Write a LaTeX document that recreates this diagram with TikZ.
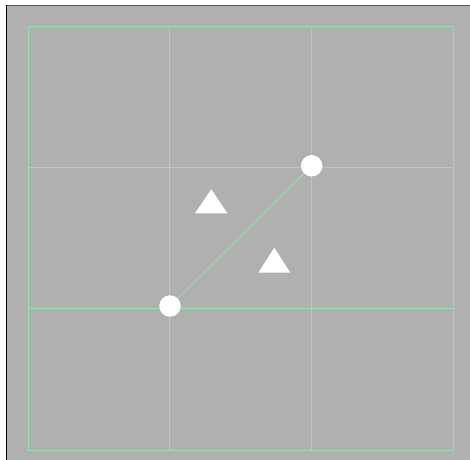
\documentclass[tikz,border=0pt]{standalone}
\definecolor{panelgray}{RGB}{176,176,176}
\definecolor{gridgreen}{RGB}{140,228,168}
\definecolor{framegray}{RGB}{90,90,90}
\begin{document}
\begin{tikzpicture}[x=1bp,y=-1bp,
  gridline/.style={draw=gridgreen, line width=1.8bp},
  handle/.style={circle, fill=white, inner sep=0pt, minimum size=21.5bp},
  marker/.style={fill=white}]
\useasboundingbox (0,0) rectangle (470,460);
\fill[white] (0,0) rectangle (470,460);
\fill[panelgray] (6,5) rectangle (470,460);
\draw[framegray, line width=1.2bp] (6,5.6) -- (470,5.6);
\draw[black, line width=1.4bp] (6.7,5) -- (6.7,460);
% 3x3 grid
\draw[gridline] (28.5,26.5) rectangle (453.5,450.5);
\foreach \gx in {169.5,311.5}
  \draw[gridline] (\gx,26) -- (\gx,451);
\foreach \gy in {167.5,308.5}
  \draw[gridline] (28,\gy) -- (454,\gy);
% handles and link
\node[handle] (low) at (170,306) {};
\node[handle] (high) at (311.7,165.8) {};
\draw[draw=gridgreen, line width=0.9bp] (low) -- (high);
% markers
\fill[marker] (195,213.3) -- (227.3,213.3) -- (211.3,189.3) -- cycle;
\fill[marker] (258.3,272.7) -- (290.3,272.7) -- (274.3,247.7) -- cycle;
\end{tikzpicture}
\end{document}
